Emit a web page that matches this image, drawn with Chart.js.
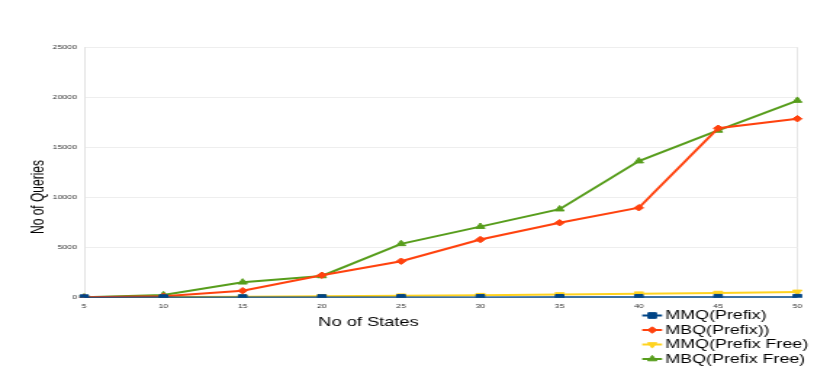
<!DOCTYPE html>
<html>
<head>
<meta charset="utf-8">
<script src="https://cdn.jsdelivr.net/npm/chart.js@4/dist/chart.umd.min.js"></script>
<style>
html,body{margin:0;padding:0;background:#fff;overflow:hidden;width:830px;height:381px;}
#wrap{position:absolute;left:0;top:0;width:572px;height:381px;transform:scaleX(1.451);transform-origin:0 0;}
</style>
</head>
<body>
<div id="wrap"><canvas id="c"></canvas></div>
<script>
const states = ['5','10','15','20','25','30','35','40','45','50'];
const mmqPrefix = [5, 10, 15, 20, 25, 30, 35, 40, 45, 50];
const mbqPrefix = [50, 150, 700, 2240, 3640, 5800, 7470, 8970, 16900, 17850];
const mmqPrefixFree = [20, 60, 100, 140, 200, 250, 320, 400, 460, 580];
const mbqPrefixFree = [50, 270, 1540, 2170, 5370, 7090, 8830, 13620, 16680, 19660];
const yTicks = [0, 5000, 10000, 15000, 20000, 25000];
const seriesNames = ['MMQ(Prefix)', 'MBQ(Prefix))', 'MMQ(Prefix Free)', 'MBQ(Prefix Free)'];
const xTitle = 'No of States';
const yTitle = 'No of Queries';

const colors = ['#004586', '#ff420e', '#ffd320', '#579d1c'];
const styles = [
  {pointStyle: 'rect', radius: 4, rotation: 0},
  {pointStyle: 'rectRot', radius: 3.2, rotation: 0},
  {pointStyle: 'triangle', radius: 3.6, rotation: 180},
  {pointStyle: 'triangle', radius: 3.6, rotation: 0}
];
const values = [mmqPrefix, mbqPrefix, mmqPrefixFree, mbqPrefixFree];

Chart.defaults.font.family = '"Liberation Sans", Arial, sans-serif';

const datasets = values.map((v, i) => ({
  label: seriesNames[i],
  data: v,
  borderColor: colors[i],
  backgroundColor: colors[i],
  borderWidth: 2,
  pointStyle: styles[i].pointStyle,
  pointRadius: styles[i].radius,
  pointRotation: styles[i].rotation,
  pointBackgroundColor: colors[i],
  pointBorderColor: colors[i],
  pointBorderWidth: 1,
  tension: 0
}));

const PLOT_LEFT = 58;
const PLOT_BOTTOM = 297.7;

const extras = {
  id: 'extras',
  afterDraw(chart) {
    const ctx = chart.ctx;
    ctx.save();
    ctx.fillStyle = '#000';
    ctx.font = '12px "Liberation Sans", Arial, sans-serif';
    ctx.translate(30, 197);
    ctx.rotate(-Math.PI / 2);
    ctx.textAlign = 'center';
    ctx.textBaseline = 'alphabetic';
    ctx.fillText(yTitle, 0, 0);
    ctx.restore();

    ctx.save();
    ctx.fillStyle = '#000';
    ctx.font = '12.6px "Liberation Sans", Arial, sans-serif';
    ctx.textAlign = 'center';
    ctx.textBaseline = 'alphabetic';
    ctx.fillText(xTitle, 254, 326);
    ctx.restore();

    const drawPoint = (Chart.helpers && Chart.helpers.drawPoint);
    for (let i = 0; i < seriesNames.length; i++) {
      const y = 315.5 + i * 14.5;
      ctx.save();
      ctx.strokeStyle = colors[i];
      ctx.lineWidth = 2;
      ctx.beginPath();
      ctx.moveTo(442.6, y);
      ctx.lineTo(456.3, y);
      ctx.stroke();
      ctx.fillStyle = colors[i];
      ctx.strokeStyle = colors[i];
      ctx.lineWidth = 1;
      if (drawPoint) {
        drawPoint(ctx, {pointStyle: styles[i].pointStyle, radius: styles[i].radius, rotation: styles[i].rotation, borderWidth: 1}, 449.5, y);
      }
      ctx.fillStyle = '#000';
      ctx.font = '12.3px "Liberation Sans", Arial, sans-serif';
      ctx.textAlign = 'left';
      ctx.textBaseline = 'middle';
      ctx.fillText(seriesNames[i], 458.6, y + 0.5);
      ctx.restore();
    }
  }
};

new Chart(document.getElementById('c'), {
  type: 'line',
  data: { labels: states, datasets },
  options: {
    responsive: true,
    maintainAspectRatio: false,
    animation: false,
    layout: { padding: { left: 0, right: 22.5, top: 47, bottom: 0 } },
    plugins: { legend: { display: false }, tooltip: { enabled: false } },
    scales: {
      x: {
        type: 'category',
        offset: false,
        grid: {
          drawTicks: false,
          color: (c) => (c.index === states.length - 1 ? '#e6e6e6' : 'rgba(0,0,0,0)')
        },
        border: { display: false },
        ticks: { color: '#333', font: { size: 6 }, padding: 5, maxRotation: 0, autoSkip: false },
        afterFit(scale) { scale.height = 381 - PLOT_BOTTOM; }
      },
      y: {
        min: 0,
        max: 25000,
        afterBuildTicks(scale) { scale.ticks = yTicks.map(v => ({ value: v })); },
        grid: { drawTicks: false, color: '#eeeeee' },
        border: { display: true, color: '#e3e3e3' },
        ticks: { color: '#333', font: { size: 6 }, padding: 5, callback: (v) => String(v) },
        afterFit(scale) { scale.width = PLOT_LEFT; }
      }
    }
  },
  plugins: [extras]
});
</script>
</body>
</html>
